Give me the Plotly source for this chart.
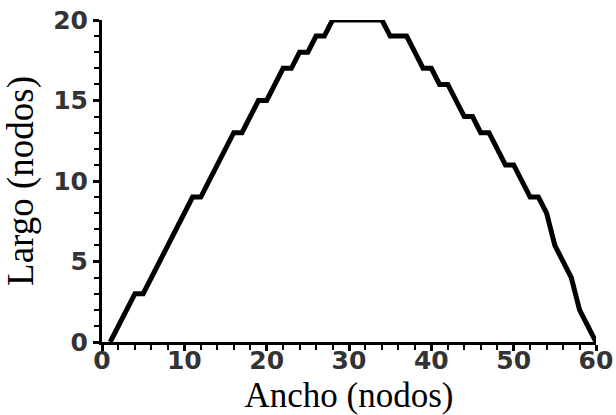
import plotly.graph_objects as go

ancho = [1, 4, 5, 11, 12, 16, 17, 19, 20, 22, 23, 24, 25, 26, 27, 28, 34, 35, 37,
         39, 40, 41, 42, 44, 45, 46, 47, 49, 50, 52, 53, 54, 55, 57, 58, 60]
largo = [0, 3, 3, 9, 9, 13, 13, 15, 15, 17, 17, 18, 18, 19, 19, 20, 20, 19, 19,
         17, 17, 16, 16, 14, 14, 13, 13, 11, 11, 9, 9, 8, 6, 4, 2, 0]

x_ticks = [0, 10, 20, 30, 40, 50, 60]
y_ticks = [0, 5, 10, 15, 20]

fig = go.Figure()
fig.add_trace(go.Scatter(x=ancho, y=largo, mode="lines",
                         line=dict(color="black", width=5),
                         cliponaxis=False, hoverinfo="skip"))

tickfont = dict(family="DejaVu Sans", size=25, color="#333333", weight=700)

fig.update_layout(
    width=616, height=415,
    margin=dict(l=102, r=20, t=20, b=73),
    paper_bgcolor="white", plot_bgcolor="white",
    showlegend=False,
    xaxis=dict(range=[0, 60], tickvals=x_ticks, showgrid=False, zeroline=False,
               automargin=False,
               showline=True, linecolor="black", linewidth=3,
               ticks="outside", ticklen=6, tickwidth=3, tickcolor="black",
               minor=dict(ticks="outside", ticklen=5, tickwidth=2, tickcolor="black", dtick=2),
               tickfont=tickfont, ticklabelstandoff=-12,
               title=dict(text="Ancho (nodos)",
                          font=dict(family="Liberation Serif", size=35, color="black"),
                          standoff=9)),
    yaxis=dict(range=[0, 20], tickvals=y_ticks, showgrid=False, zeroline=False,
               automargin=False,
               showline=True, linecolor="black", linewidth=3,
               ticks="outside", ticklen=6, tickwidth=3, tickcolor="black",
               minor=dict(ticks="outside", ticklen=5, tickwidth=2, tickcolor="black", dtick=1),
               tickfont=tickfont,
               title=dict(text="Largo (nodos)",
                          font=dict(family="Liberation Serif", size=37, color="black"),
                          standoff=10)),
)

fig.write_html("out.html")
